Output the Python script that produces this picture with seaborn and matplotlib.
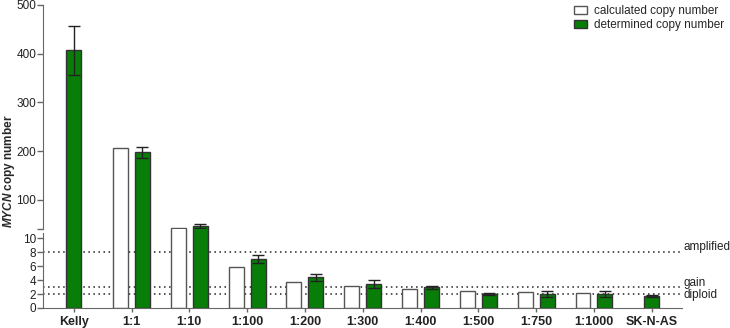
import matplotlib
matplotlib.use('Agg')
import numpy as np
import pandas as pd
import seaborn as sns
import matplotlib.pyplot as plt
import matplotlib.transforms as mtransforms
from matplotlib.patches import Patch
from matplotlib.colors import to_rgba

samples = ['Kelly', '1:1', '1:10', '1:100', '1:200', '1:300', '1:400',
           '1:500', '1:750', '1:1000', 'SK-N-AS']
calculated = [np.nan, 206, 42, 5.8, 3.76, 3.14, 2.71, 2.48, 2.24, 2.1, np.nan]
determined = [407, 197, 46, 7.0, 4.4, 3.45, 2.95, 2.0, 1.96, 1.96, 1.76]
determined_err = [50, 11, 5, 0.57, 0.52, 0.55, 0.22, 0.2, 0.42, 0.42, 0.14]
kinds = ['calculated copy number', 'determined copy number']
thresholds = [8, 3, 2]
threshold_labels = ['amplified', 'gain', 'diploid']
threshold_label_y = [8.7, 3.55, 1.85]

green = '#087d08'
white = '#ffffff'

sns.set_style('ticks')
plt.rcParams['font.family'] = ['Liberation Sans', 'DejaVu Sans']
plt.rcParams['mathtext.fontset'] = 'custom'
plt.rcParams['mathtext.it'] = 'Liberation Sans:italic:bold'
plt.rcParams['mathtext.rm'] = 'Liberation Sans:bold'

# long table for the paired groups, separate one for single-bar groups
rows = []
for s, c, d in zip(samples, calculated, determined):
    if not np.isnan(c):
        rows.append((s, kinds[0], c))
        rows.append((s, kinds[1], d))
pair_df = pd.DataFrame(rows, columns=['sample', 'kind', 'value'])
single_df = pd.DataFrame([(s, d) for s, c, d in zip(samples, calculated, determined)
                          if np.isnan(c)], columns=['sample', 'value'])
err_lookup = dict(zip(samples, determined_err))
val_lookup = dict(zip(samples, determined))

fig = plt.figure(figsize=(7.3, 3.28), dpi=100)
ax_up = fig.add_axes([0.059, 0.302, 0.875, 0.683])
# lower axes reaches up to the upper one so bars look continuous across the break
ax_lo = fig.add_axes([0.059, 0.061, 0.875, 0.241])

green_rgba = to_rgba(green)

def draw(ax):
    sns.barplot(data=pair_df, x='sample', y='value', hue='kind', order=samples,
                hue_order=kinds, palette=[white, green], width=0.76, gap=0.32,
                saturation=1, errorbar=None, legend=False, linewidth=1,
                edgecolor='#333333', ax=ax)
    sns.barplot(data=single_df, x='sample', y='value', order=samples, color=green,
                width=0.26, saturation=1, errorbar=None, linewidth=1,
                edgecolor='#333333', ax=ax)
    xs, ys, es = [], [], []
    for p in ax.patches:
        if np.allclose(p.get_facecolor(), green_rgba, atol=0.02):
            cx = p.get_x() + p.get_width() / 2
            s = samples[int(round(cx))]
            xs.append(cx)
            ys.append(val_lookup[s])
            es.append(err_lookup[s])
        else:
            p.set_edgecolor('#555555')
    ax.errorbar(xs, ys, yerr=es, fmt='none', ecolor='#222222', elinewidth=1,
                capsize=4.3, capthick=1, zorder=3)
    ax.set_xlim(-0.53, 10.52)
    ax.set_xlabel('')
    ax.set_ylabel('')
    ax.patch.set_alpha(0)
    for sp in ['top', 'right']:
        ax.spines[sp].set_visible(False)
    ax.spines['left'].set_color('#666666')
    ax.spines['bottom'].set_color('#666666')
    ax.tick_params(axis='both', colors='#666666', labelcolor='#222222',
                   length=4, width=1, labelsize=8.5)
    ax.tick_params(axis='y', pad=1)

draw(ax_up)
draw(ax_lo)

ax_up.set_ylim(40, 500)
ax_up.set_yticks([40, 100, 200, 300, 400, 500])
ax_up.set_yticklabels(['', '100', '200', '300', '400', '500'])
ax_up.spines['bottom'].set_visible(False)
ax_up.tick_params(axis='x', bottom=False, labelbottom=False)

ax_lo.set_ylim(0, 11.3)
ax_lo.spines['left'].set_bounds(0, 10.7)
ax_lo.set_yticks([0, 2, 4, 6, 8, 10])
ax_lo.set_xticks(range(len(samples)))
ax_lo.set_xticklabels(samples, fontweight='bold', fontsize=9)
ax_lo.tick_params(axis='x', length=3, pad=2.5)

trans = mtransforms.blended_transform_factory(ax_lo.transAxes, ax_lo.transData)
for y, lab, ly in zip(thresholds, threshold_labels, threshold_label_y):
    ax_lo.axhline(y, color='#222222', lw=1.1, ls=(0, (1, 2.3)), zorder=0.5)
    ax_lo.text(1.002, ly, lab, transform=trans, ha='left', va='center',
               fontsize=8.5, color='#222222', clip_on=False)

fig.text(0.013, 0.479, r'$\mathit{MYCN}$ copy number', rotation=90,
         ha='center', va='center', fontweight='bold', fontsize=8.5)

handles = [Patch(facecolor=white, edgecolor='#555555', lw=1),
           Patch(facecolor=green, edgecolor='#333333', lw=1)]
fig.legend(handles, kinds, loc='upper left', bbox_to_anchor=(0.786, 0.985),
           frameon=False, fontsize=8.5, borderpad=0, borderaxespad=0,
           handlelength=1.15, handleheight=0.7, handletextpad=0.6,
           labelspacing=0.2)

fig.savefig('out.png', dpi=100)
